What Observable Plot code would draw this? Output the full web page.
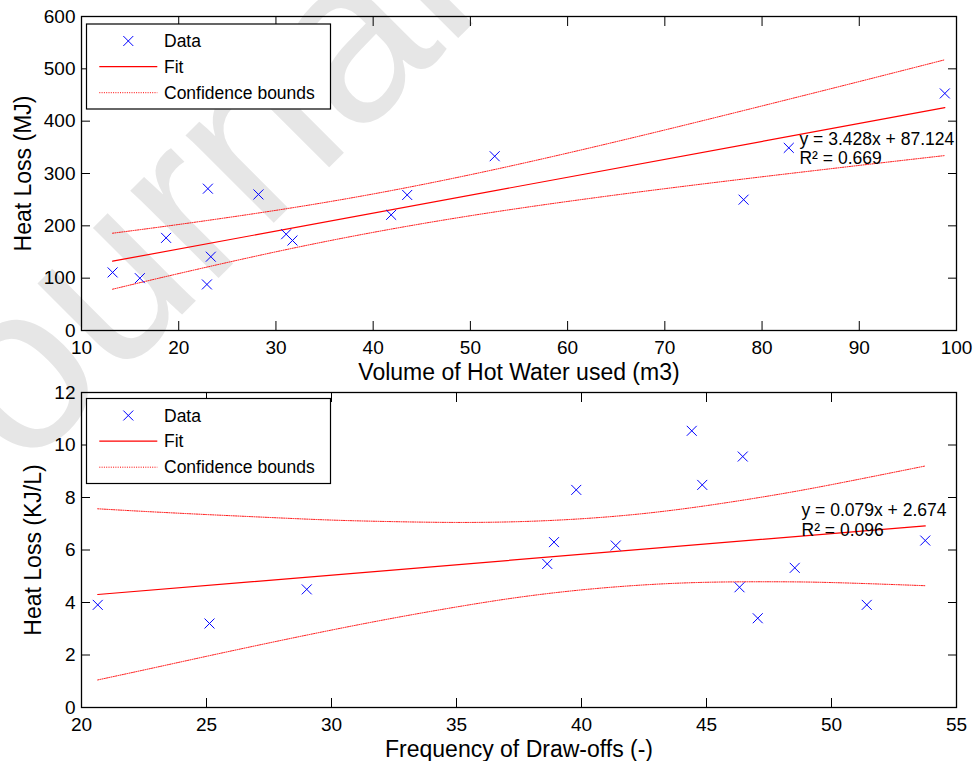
<!DOCTYPE html>
<html><head><meta charset="utf-8">
<script src="https://cdn.jsdelivr.net/npm/d3@7"></script>
<script src="https://cdn.jsdelivr.net/npm/@observablehq/plot@0.6"></script>
<style>
body{margin:0;background:#fff;}
#wrap{position:relative;width:975px;height:761px;overflow:hidden;background:#fff;font-family:"Liberation Sans",Arial,Helvetica,sans-serif;}
#wm{position:absolute;left:0;top:0;}
#toppanel,#botpanel{position:absolute;left:0;}
#toppanel{top:0px}
#botpanel{top:380px}
svg{overflow:visible}
</style></head><body>
<div id="wrap"><svg id="wm" width="975" height="761" style="overflow:hidden"></svg><div id="toppanel"></div><div id="botpanel"></div></div>
<script>
// ---------- data: top panel ----------
const volumeM3 = [13.2, 16.0, 18.7, 23.0, 23.3, 22.9, 28.2, 31.05, 31.7, 41.85, 43.5, 52.5, 78.1, 82.75, 98.8];
const heatLossMJ = [111, 100, 177, 271, 141, 88, 260, 184, 172, 221, 259, 333, 250, 349, 453];
const fitTopX = [13.2, 98.8];
const fitTopY = [132.4, 425.8];
const boundTopX = [13.2, 20, 30, 40, 50, 60, 70, 80, 90, 98.8];
const boundTopUpper = [185.9, 202.6, 229.6, 260.9, 297.7, 339.0, 383.2, 429.1, 475.7, 517.3];
const boundTopLower = [78.9, 108.8, 150.4, 187.5, 219.3, 246.6, 271.0, 293.7, 315.5, 334.3];
const annTopText = ["y = 3.428x + 87.124", "R² = 0.669"];
const annTopX = [83.85, 83.85];
const annTopY = [355.4, 317.2];
const xTicksTop = [10, 20, 30, 40, 50, 60, 70, 80, 90, 100];
const yTicksTop = [0, 100, 200, 300, 400, 500, 600];

// ---------- data: bottom panel ----------
const drawOffs = [20.65, 25.12, 29.01, 38.63, 38.9, 39.79, 41.37, 44.41, 44.83, 46.32, 46.45, 47.05, 48.53, 51.41, 53.75];
const heatLossKJL = [3.91, 3.2, 4.5, 5.47, 6.3, 8.29, 6.17, 10.54, 8.48, 4.58, 9.56, 3.4, 5.32, 3.91, 6.36];
const fitBotX = [20.65, 53.75];
const fitBotY = [4.305, 6.92];
const boundBotX = [20.65, 22.5, 25, 27.5, 30, 32.5, 35, 37.5, 40, 42.5, 45, 47.5, 50, 53.75];
const boundBotUpper = [7.57, 7.47, 7.35, 7.24, 7.14, 7.08, 7.05, 7.08, 7.19, 7.39, 7.69, 8.06, 8.49, 9.20];
const boundBotLower = [1.05, 1.43, 1.95, 2.46, 2.95, 3.41, 3.83, 4.20, 4.48, 4.67, 4.77, 4.79, 4.76, 4.64];
const annBotText = ["y = 0.079x + 2.674", "R² = 0.096"];
const annBotX = [48.8, 48.8];
const annBotY = [7.314, 6.552];
const xTicksBot = [20, 25, 30, 35, 40, 45, 50, 55];
const yTicksBot = [0, 2, 4, 6, 8, 10, 12];

const legendLabels = ["Data", "Fit", "Confidence bounds"];
const watermarkText = "Journal Pre-proof";
const FONT = '"Liberation Sans", Arial, Helvetica, sans-serif';
const MARK_R = 4.6;

function zip(xs, ys) { return xs.map((x, i) => ({x, y: ys[i]})); }

function panel(o) {
  const pts = zip(o.px, o.py);
  const fit = zip(o.fx, o.fy);
  const bounds = o.bx.map((x, i) => ({x, upper: o.bu[i], lower: o.bl[i]}));
  const ann = o.ax.map((x, i) => ({x, y: o.ay[i], t: o.at[i]}));
  return Plot.plot({
    width: 975, height: o.height,
    marginLeft: 81, marginRight: 19, marginTop: o.marginTop, marginBottom: o.marginBottom,
    style: {background: "transparent", fontFamily: FONT, fontSize: "19px", overflow: "visible", color: "black"},
    x: {domain: o.xDomain, label: null},
    y: {domain: o.yDomain, label: null},
    marks: [
      Plot.line(bounds, {x: "x", y: "upper", stroke: "#ff0000", strokeWidth: 1, strokeDasharray: "1,1.3", curve: "natural"}),
      Plot.line(bounds, {x: "x", y: "lower", stroke: "#ff0000", strokeWidth: 1, strokeDasharray: "1,1.3", curve: "natural"}),
      Plot.line(fit, {x: "x", y: "y", stroke: "#ff0000", strokeWidth: 1.2}),
      Plot.dot(pts, {x: "x", y: "y", symbol: "times", r: MARK_R, stroke: "#0000ff", strokeWidth: 1}),
      Plot.text(ann, {x: "x", y: "y", text: "t", textAnchor: "start", lineAnchor: "bottom", fontSize: 17.5, fill: "black"}),
      Plot.frame({stroke: "black", strokeWidth: 1.3}),
      Plot.axisX({anchor: "bottom", ticks: o.xTicks, tickSize: -9, tickPadding: 19, label: null}),
      Plot.axisX({anchor: "top", ticks: o.xTicks, tickSize: -9, fill: "none", label: null}),
      Plot.axisY({anchor: "left", ticks: o.yTicks, tickSize: -9, tickPadding: 15, label: null}),
      Plot.axisY({anchor: "right", ticks: o.yTicks, tickSize: -9, fill: "none", label: null}),
      Plot.text([o.xLabel], {text: d => d, frameAnchor: "bottom", dy: 49.5, lineAnchor: "bottom", textAnchor: "middle", fontSize: 23, fill: "black"}),
      Plot.text([o.yLabel], {text: d => d, frameAnchor: "left", rotate: -90, dx: o.yLabelDx, lineAnchor: "bottom", textAnchor: "middle", fontSize: 23, fill: "black"})
    ]
  });
}

function addLegend(svg, x0, y0) {
  const g = d3.select(svg).append("g").attr("transform", `translate(${x0},${y0})`)
    .attr("font-family", FONT).attr("font-size", 17.5).attr("text-anchor", "start");
  g.append("rect").attr("width", 244).attr("height", 85).attr("fill", "white")
    .attr("stroke", "black").attr("stroke-width", 1.2);
  const rows = [17, 42.7, 68.7];
  g.append("path").attr("d", d3.symbol(d3.symbolTimes, Math.PI * MARK_R * MARK_R)())
    .attr("transform", `translate(41.8,${rows[0]})`).attr("fill", "none").attr("stroke", "#0000ff").attr("stroke-width", 1);
  g.append("line").attr("x1", 12.8).attr("x2", 70.8).attr("y1", rows[1]).attr("y2", rows[1])
    .attr("stroke", "#ff0000").attr("stroke-width", 1.2);
  g.append("line").attr("x1", 12.8).attr("x2", 70.8).attr("y1", rows[2]).attr("y2", rows[2])
    .attr("stroke", "#ff0000").attr("stroke-width", 1).attr("stroke-dasharray", "1,1.3");
  legendLabels.forEach((t, i) => {
    g.append("text").attr("x", 77.5).attr("y", rows[i]).attr("dy", "0.35em").attr("fill", "black").text(t);
  });
}

const topPlot = panel({
  px: volumeM3, py: heatLossMJ, fx: fitTopX, fy: fitTopY,
  bx: boundTopX, bu: boundTopUpper, bl: boundTopLower,
  ax: annTopX, ay: annTopY, at: annTopText,
  xDomain: [10, 100], yDomain: [0, 600], xTicks: xTicksTop, yTicks: yTicksTop,
  xLabel: "Volume of Hot Water used (m3)", yLabel: "Heat Loss (MJ)", yLabelDx: -51,
  height: 380, marginTop: 16, marginBottom: 50
});
addLegend(topPlot, 86.5, 24);
document.getElementById("toppanel").appendChild(topPlot);

const botPlot = panel({
  px: drawOffs, py: heatLossKJL, fx: fitBotX, fy: fitBotY,
  bx: boundBotX, bu: boundBotUpper, bl: boundBotLower,
  ax: annBotX, ay: annBotY, at: annBotText,
  xDomain: [20, 55], yDomain: [0, 12], xTicks: xTicksBot, yTicks: yTicksBot,
  xLabel: "Frequency of Draw-offs (-)", yLabel: "Heat Loss (KJ/L)", yLabelDx: -40.5,
  height: 381, marginTop: 12, marginBottom: 54
});
addLegend(botPlot, 86.5, 18.5);
document.getElementById("botpanel").appendChild(botPlot);

// watermark (page overlay behind the axes)
d3.select("#wm").append("text")
  .attr("transform", "translate(-61,557.4) rotate(-45)")
  .attr("font-family", FONT).attr("font-size", 235).attr("fill", "#e6e6e6")
  .text(watermarkText);
</script>
</body></html>
